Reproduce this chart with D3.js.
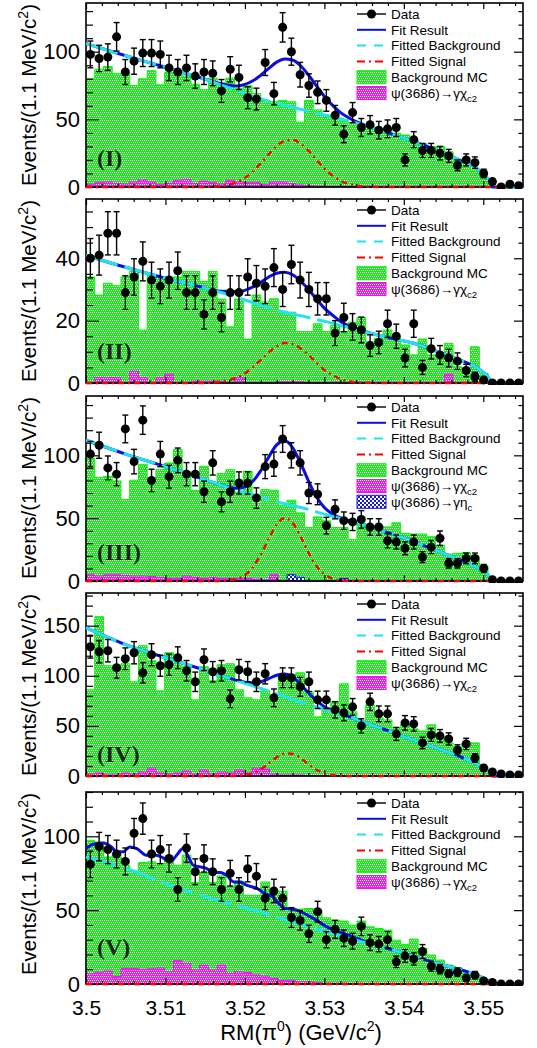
<!DOCTYPE html>
<html lang="en">
<head>
<meta charset="UTF-8">
<title>RM(pi0) fits</title>
<style>
  html, body { margin: 0; padding: 0; background: #fff; }
  #chart { display: block; }
</style>
</head>
<body>
<svg id="chart" width="537" height="1048"></svg>
<script src="https://d3js.org/d3.v7.min.js"></script>
<script>
// ---- binning and axis labels ----
const xDomain = [3.5, 3.555];
const binStart = 3.5, binWidth = 0.0011;   // 50 bins of 1.1 MeV
const xTickValues = [3.5, 3.51, 3.52, 3.53, 3.54, 3.55];
const xTickLabels = ["3.5", "3.51", "3.52", "3.53", "3.54", "3.55"];
const panelTags = ["(I)", "(II)", "(III)", "(IV)", "(V)"];

// ---- events per bin ----
const dataI = [98,95,96,111,85,93,99,99,98,88, 85,88,82,85,84,71,87,81,66,65,
  92,69,118,100,83,75,70,64,53,39, 55,44,46,42,43,44,20,35,27,27, 25,23,16,20,18,10,4,0,2,1];
const bkgMcI = [80,87,89,84,84,75,80,86,75.5,84.7, 83.7,82,76,72,80.5,77,80.5,73,74.8,69,
  64,63,64,63,48,64,57,53,51,49.6, 47,44.7,45,43.4,42,39.8,38.5,34.8,32,30, 30,26,20,17.5,12.6,7.6,0,0,0,0];
const chic2I = [2,3.2,3.7,2.7,2.2,3.7,5.2,3.7,1.7,2.7, 5,5.7,2.7,4.4,3.2,2.2,5,3.7,3.2,3.2,
  1.7,3.7,3.7,2.5,1.5,1,0.7,0.5,0.5,0.5, 0.3,0,0,0,0,0,0,0,0,0, 0,0,0,0,0,0,0,0,0,0];

const dataII = [40,41,48,48,29,34,39,33,31,33, 36,29,29,22,29,21,29,29,34,32,
  31,37,30,38,33,30,27,27,16,21, 18,17,12,13,19,15,8,19,5,11, 9,8,7,4,2,1,0,0,0,0];
const bkgMcII = [34,28.2,32,31.2,34,35.8,17,34.6,34,34, 34,35.8,35.8,32.6,35.8,26.9,18,26.9,14.1,28.2,
  26,27,23,22.7,16.5,16.5,19,16.5,18.5,16.5, 19.5,21,13.2,14.3,17,14.3,12.2,9,14.1,9, 7.9,12.7,5.2,4.6,11.6,3.1,0,0,0,0];
const chic2II = [0,1.7,1.7,1.7,0,3.8,1.7,0,1.7,2.8, 0,0,0.6,0.6,0.6,0.6,0,1.7,0,0,
  0,0,0.4,0.4,0.4,0,0,0,0.3,0, 0.3,0,0,0,0,0,0,0,0,0, 0,2.8,0,0,0,0,0,0,0,0];

const dataIII = [101,108,90,85,121,95,128,80,101,83, 96,85,85,71,94,63,71,78,78,66,
  91,93,113,100,94,70,69,44,57,48, 47,49,43,43,32,31,26,31,19,27, 34,14,14,18,18,10,1,0,0,0];
const bkgMcIII = [97.4,82.3,83.3,79.6,64.8,80.2,92.9,80.2,88.6,93.9, 104.5,87.3,72.2,91.3,78,85.5,88.6,70.9,87.3,61.7,
  72.8,72.2,60.3,64.3,54.2,42.6,51,47.9,42.6,42.6, 33.1,45.8,44.4,43.7,43,46.3,37.9,37.4,37.4,35.2, 28.6,21.4,22,22.5,19.3,11.9,0,0,0,0];
const chic2III = [5,4,5,5,4.5,4,4,3.5,3,2, 2,4,3,2,3,2,2,2,2,1.5,
  1,5,0.5,0.5,0.3,0,0,0,0,0, 0,0,0,0,0,0,0,0,0,0, 0,0,0,0,0,0,0,0,0,0];
const etacIII = [0,0,0,0,0,0,0,0,0,0, 0,0,0,0,0,0,0,0,0,0,
  0,0,0,5,3,0,0,0,0,2, 0,0,0,0,0,0,0,0,0,0, 0,0,0,0,0,0,0,0,0,0];

const dataIV = [129,124,125,108,117,123,103,121,110,111, 118,105,94,116,104,105,77,106,104,94,
  102,78,98,98,89,94,76,76,66,63, 69,50,74,62,62,42,53,52,33,41, 40,37,26,32,18,8,4,2,1,1];
const bkgMcIV = [86,159,110,110,112,94,130,115,85,123, 115,109,76,109,95,111,112,86,78,76,
  85,81,99,101,103,84,59,68,74,92, 64,55,71,58,56,48,51,47,45,51, 39,33,24,33,33,9,0,0,0,0];
const chic2IV = [2,3,1,1,3,2,4,8,3,2, 3,5,2,6,2,4,3,6,3,8,
  7,2,1,1,1,0.5,0.5,0.5,0.5,0, 0,0,0,0,0,0,0,0,0,0, 0,0,0,0,0,0,0,0,0,0];

const dataV = [81,93,91,88,83,102,112,88,91,85, 64,92,76,85,76,64,75,64,78,73,
  58,63,58,45,43,34,49,30,37,31, 29,39,28,27,30,15,19,17,22,12, 10,7,8,4,6,2,1,0,0,0];
const bkgMcV = [97.3,96.1,86,88.3,80.4,76.4,82.2,82.7,81.5,86, 80.4,87.2,68.7,75.5,68.7,73.2,65.8,69.6,60.1,60.1,
  69.1,62.8,62.8,51.1,50.7,51.1,50,44.8,43.2,42.6, 39.9,42.6,38.7,37.6,36.5,29.7,26.8,30.4,24.1,19.6, 16.2,12.8,11,8.3,6.6,2,0,0,0,0];
const chic2V = [7,8,8.8,5,10.6,10.6,10,10.3,10.9,8.3, 16,14,9.5,12.8,9.5,12.8,7.2,8.3,7.7,6.1,
  5.4,3.8,2.3,2.5,1.6,1.6,0.9,0.5,0.5,0.5, 0.3,0,0,0,0,0,0,0,0,0, 0,0,0,0,0,0,0,0,0,0];

// ---- fitted curves, read at these masses ----
const curveX = [3.500, 3.505, 3.510, 3.514, 3.517, 3.519, 3.520, 3.521, 3.522, 3.523, 3.524, 3.525, 3.526, 3.527,
  3.528, 3.529, 3.530, 3.531, 3.532, 3.533, 3.535, 3.538, 3.541, 3.544, 3.547, 3.549, 3.5505, 3.5512, 3.555];

const fitI = [106,97,88.5,81.5,76.3,74.7,75.8,78.5,82.6,87.7,92.3,94.7,93.9,89.6,82.8,74.8,67,60.5,55.2,51.4,45.9,40,34,27.5,20,14.5,6.5,0,0];
const bkgI = [106,97,88.5,81.5,75.5,71,69,67,65,63.5,62,60.5,59,57.5,56,54.7,53.3,52,50.5,49,45.5,40,34,27.5,20,14.5,6.5,0,0];
const sigI = [0,0,0,0,0.8,3.7,6.8,11.5,17.6,24.2,30.3,34.2,34.9,32.1,26.8,20.1,13.7,8.5,4.7,2.4,0.4,0,0,0,0,0,0,0,0];

const fitII = [40.9,37.1,33.6,31.1,29.4,29.3,29.7,30.8,32.3,34,35.2,35.5,34.7,32.7,30,26.9,24,21.8,19.8,18.4,16.6,14.6,12.9,10.3,7.4,5.2,2.3,0,0];
const bkgII = [40.9,37.1,33.6,31.1,29,27.5,26.6,25.8,24.9,24.2,23.4,22.7,22.1,21.6,21,20.4,19.8,19.2,18.5,17.8,16.5,14.6,12.9,10.3,7.4,5.2,2.3,0,0];
const sigII = [0,0,0,0,0.4,1.8,3.1,5,7.4,9.8,11.8,12.8,12.6,11.1,9,6.5,4.2,2.6,1.3,0.6,0.1,0,0,0,0,0,0,0,0];

const fitIII = [112,101,91,82.7,76.4,73.7,75,79.4,87.8,98.7,108.3,111.5,106.2,93.9,79.6,67,58.5,53.4,50.3,48.2,44.5,38.5,32,24.5,17,11.5,5.5,0,0];
const bkgIII = [112,101,91,82.7,76.3,72,70.3,68.5,66.7,65,63.2,61.5,60,58.5,57,55,53.2,51.4,49.7,48,44.5,38.5,32,24.5,17,11.5,5.5,0,0];
const sigIII = [0,0,0,0,0.1,1.7,4.7,10.9,21.1,33.7,45.1,50,46.2,35.4,22.6,12,5.3,2,0.6,0.2,0,0,0,0,0,0,0,0,0];

const fitIV = [148,131,118,108,100.3,95.3,93.6,93,94.1,97.2,100.6,101.7,98.7,91.5,82.9,75.1,69.2,65.2,62.2,59.6,53.4,45.2,36.5,28.3,19.5,12.5,5.5,0,0];
const bkgIV = [148,131,118,108,100.3,95,92.5,90,87.3,84.8,82,79.2,76.4,73.6,71.2,68.9,66.5,64.2,61.9,59.5,53.4,45.2,36.5,28.3,19.5,12.5,5.5,0,0];
const sigIV = [0,0,0,0,0,0.3,1.1,3,6.8,12.4,18.6,22.5,22.3,17.9,11.7,6.2,2.7,1,0.3,0.1,0,0,0,0,0,0,0,0,0];

// panel V fit follows the MC shape, so it has its own sampling
const fitVX = [3.5000,3.5011,3.5022,3.5032,3.5039,3.5047,3.5055,3.5064,3.5076,3.5089,3.5097,3.5106,3.5114,3.5122,
  3.5129,3.5135,3.5144,3.5152,3.5160,3.5169,3.5177,3.5186,3.5194,3.5202,3.5215,3.5228,3.5232,3.5249,3.5265,
  3.5286,3.5307,3.5328,3.5358,3.538,3.541,3.544,3.547,3.549,3.5505,3.5512,3.555];
const fitV = [91.7,95,95.5,92.8,89.4,89.5,92.8,91.7,87.2,87.2,85.4,82.6,87.2,91.7,86,80.4,79.3,78.2,75.5,75.5,
  73.6,69.1,69.1,66.9,64.7,60.6,60.1,51.6,50,44.4,37.6,33.6,27.5,24,19.2,14.2,10,6.3,2.8,0,0];
const bkgV = [86,78.5,68,60.7,56,53,51.6,50.2,48.8,46.9,45.3,43.7,42.1,40.5,38.9,37.3,35.7,34.2,32.6,31.1,28.2,24,19.2,14.2,10,6.3,2.8,0,0];
const sigV = [0,0,0,0,0,0,0,0,0,0,0,0,0,0,0,0,0,0,0,0,0,0,0,0,0,0,0,0,0];

const panels = [
  {data: dataI, bkgMc: bkgMcI, chic2: chic2I, etac: null, fitX: curveX, fit: fitI, bkg: bkgI, sig: sigI},
  {data: dataII, bkgMc: bkgMcII, chic2: chic2II, etac: null, fitX: curveX, fit: fitII, bkg: bkgII, sig: sigII},
  {data: dataIII, bkgMc: bkgMcIII, chic2: chic2III, etac: etacIII, fitX: curveX, fit: fitIII, bkg: bkgIII, sig: sigIII},
  {data: dataIV, bkgMc: bkgMcIV, chic2: chic2IV, etac: null, fitX: curveX, fit: fitIV, bkg: bkgIV, sig: sigIV},
  {data: dataV, bkgMc: bkgMcV, chic2: chic2V, etac: null, fitX: fitVX, fit: fitV, bkg: bkgV, sig: sigV}
];

// ---- layout ----
const sans = '"Liberation Sans", Arial, Helvetica, sans-serif';
const left = 86, right = 523;
const boxes = [
  {top: 3, bottom: 187, yMax: 136, major: 50, minor: 10, tagY: 166},
  {top: 199, bottom: 383, yMax: 59, major: 20, minor: 5, tagY: 359},
  {top: 396, bottom: 581, yMax: 147.2, major: 50, minor: 10, tagY: 560},
  {top: 593, bottom: 776, yMax: 182.6, major: 50, minor: 10, tagY: 762},
  {top: 792, bottom: 984, yMax: 130, major: 50, minor: 10, tagY: 955}
];
const colFit = "#0c0ce6", colBkg = "#22e2f2", colSig = "#ff0000";

const svg = d3.select("#chart");
const defs = svg.append("defs");

function makePattern(id, bg, fg, size, cells) {
  const p = defs.append("pattern").attr("id", id)
    .attr("patternUnits", "userSpaceOnUse").attr("width", size).attr("height", size);
  p.append("rect").attr("width", size).attr("height", size).attr("fill", bg);
  cells.forEach(c => p.append("rect").attr("x", c[0]).attr("y", c[1])
    .attr("width", c[2]).attr("height", c[2]).attr("fill", fg));
}
const dots = [[0, 0, 1], [2, 0, 1], [1, 2, 1], [3, 2, 1]];
makePattern("fillGreen", "#10f010", "#ffffff", 4, dots);
makePattern("fillMagenta", "#f414f4", "#ffffff", 4, dots);
makePattern("fillBlue", "#1414dc", "#ffffff", 4, [[0, 0, 2], [2, 2, 2]]);

const x = d3.scaleLinear().domain(xDomain).range([left, right]);

const xMinor = d3.range(0, 28).filter(k => k % 5 !== 0).map(k => 3.5 + k * 0.002);

panels.forEach((p, i) => {
  const b = boxes[i];
  const y = d3.scaleLinear().domain([0, b.yMax]).range([b.bottom, b.top]);
  const g = svg.append("g");

  const clipId = "clip" + i;
  defs.append("clipPath").attr("id", clipId).append("rect")
    .attr("x", left - 2).attr("y", b.top).attr("width", right - left + 4).attr("height", b.bottom - b.top + 2);

  // histograms
  const histLayer = g.append("g").attr("clip-path", `url(#${clipId})`);
  const histPath = vals => {
    const pts = vals.map((v, k) => [binStart + k * binWidth, v]);
    pts.push([binStart + vals.length * binWidth, vals[vals.length - 1]]);
    return d3.area().x(d => x(d[0])).y0(y(0)).y1(d => y(d[1])).curve(d3.curveStepAfter)(pts);
  };
  histLayer.append("path").attr("d", histPath(p.bkgMc))
    .attr("fill", "url(#fillGreen)").attr("stroke", "#12ee12").attr("stroke-width", 1);
  histLayer.append("path").attr("d", histPath(p.chic2))
    .attr("fill", "url(#fillMagenta)").attr("stroke", "#f010f0").attr("stroke-width", 1);
  if (p.etac) {
    histLayer.append("path").attr("d", histPath(p.etac))
      .attr("fill", "url(#fillBlue)").attr("stroke", "#1414dc").attr("stroke-width", 1);
  }

  // frame and ticks
  g.append("rect").attr("x", left).attr("y", b.top).attr("width", right - left).attr("height", b.bottom - b.top)
    .attr("fill", "none").attr("stroke", "#000").attr("stroke-width", 1.6);

  const yMajor = d3.range(0, b.yMax + 0.01, b.major);
  const yMinor = d3.range(0, b.yMax + 0.01, b.minor).filter(v => v % b.major !== 0);
  const axes = g.append("g");
  axes.append("g").attr("transform", `translate(${left},0)`)
    .call(d3.axisLeft(y).tickValues(yMinor).tickSize(-7).tickFormat(""));
  axes.append("g").attr("class", "ylab").attr("transform", `translate(${left},0)`)
    .call(d3.axisLeft(y).tickValues(yMajor).tickSize(-13).tickPadding(6).tickFormat(d3.format("d")));
  axes.append("g").attr("transform", `translate(${right},0)`)
    .call(d3.axisRight(y).tickValues(yMinor).tickSize(-4.5).tickFormat(""));
  axes.append("g").attr("transform", `translate(${right},0)`)
    .call(d3.axisRight(y).tickValues(yMajor).tickSize(-9).tickFormat(""));
  axes.append("g").attr("transform", `translate(0,${b.bottom})`)
    .call(d3.axisBottom(x).tickValues(xMinor).tickSize(-3).tickFormat(""));
  axes.append("g").attr("class", "xlab").attr("transform", `translate(0,${b.bottom})`)
    .call(d3.axisBottom(x).tickValues(xTickValues).tickSize(-6).tickPadding(16)
      .tickFormat((d, k) => i === panels.length - 1 ? xTickLabels[k] : ""));
  axes.append("g").attr("transform", `translate(0,${b.top})`)
    .call(d3.axisTop(x).tickValues(xMinor).tickSize(-3).tickFormat(""));
  axes.append("g").attr("transform", `translate(0,${b.top})`)
    .call(d3.axisTop(x).tickValues(xTickValues).tickSize(-6).tickFormat(""));
  axes.selectAll(".domain").remove();
  axes.selectAll("line").attr("stroke", "#000").attr("stroke-width", 1.2);
  axes.selectAll(".ylab text").attr("font-family", sans).attr("font-size", 22).attr("fill", "#000");
  axes.selectAll(".xlab text").attr("font-family", sans).attr("font-size", 21).attr("fill", "#000");

  // fitted curves
  const curveLayer = g.append("g").attr("clip-path", `url(#${clipId})`).attr("fill", "none");
  const line = d3.line().x(d => x(d[0])).y(d => y(d[1])).curve(d3.curveMonotoneX);
  curveLayer.append("path").attr("d", line(d3.zip(p.fitX, p.fit)))
    .attr("stroke", colFit).attr("stroke-width", 3);
  curveLayer.append("path").attr("d", line(d3.zip(curveX, p.bkg)))
    .attr("stroke", colBkg).attr("stroke-width", 3).attr("stroke-dasharray", "33,7");
  curveLayer.append("path").attr("d", line(d3.zip(curveX, p.sig)))
    .attr("stroke", colSig).attr("stroke-width", 2.5).attr("stroke-dasharray", "6,4,2,4");

  // data points with sqrt(N) error bars
  const pts = p.data.map((v, k) => ({m: binStart + (k + 0.5) * binWidth, v: v}));
  const dataLayer = g.append("g").attr("clip-path", `url(#${clipId})`);
  const withErr = pts.filter(d => d.v > 0);
  dataLayer.selectAll("line.bar").data(withErr).join("line").attr("class", "bar")
    .attr("x1", d => x(d.m)).attr("x2", d => x(d.m))
    .attr("y1", d => y(d.v - Math.sqrt(d.v))).attr("y2", d => y(d.v + Math.sqrt(d.v)))
    .attr("stroke", "#000").attr("stroke-width", 1.4);
  dataLayer.selectAll("line.capHi").data(withErr).join("line").attr("class", "capHi")
    .attr("x1", d => x(d.m) - 3).attr("x2", d => x(d.m) + 3)
    .attr("y1", d => y(d.v + Math.sqrt(d.v))).attr("y2", d => y(d.v + Math.sqrt(d.v)))
    .attr("stroke", "#000").attr("stroke-width", 1.4);
  dataLayer.selectAll("line.capLo").data(withErr).join("line").attr("class", "capLo")
    .attr("x1", d => x(d.m) - 3).attr("x2", d => x(d.m) + 3)
    .attr("y1", d => y(d.v - Math.sqrt(d.v))).attr("y2", d => y(d.v - Math.sqrt(d.v)))
    .attr("stroke", "#000").attr("stroke-width", 1.4);
  dataLayer.selectAll("circle").data(pts).join("circle")
    .attr("cx", d => x(d.m)).attr("cy", d => y(d.v)).attr("r", 4.5).attr("fill", "#000");

  // legend
  const entries = [
    {kind: "data", text: "Data"},
    {kind: "line", stroke: colFit, dash: null, text: "Fit Result"},
    {kind: "line", stroke: colBkg, dash: "9,8", text: "Fitted Background"},
    {kind: "line", stroke: colSig, dash: "8,4,2,4", text: "Fitted Signal"},
    {kind: "box", fill: "url(#fillGreen)", stroke: "#12ee12", text: "Background MC"},
    {kind: "box", fill: "url(#fillMagenta)", stroke: "#f010f0", text: "ψ(3686)→γχ", sub: "c2"}
  ];
  if (p.etac) entries.push({kind: "box", fill: "url(#fillBlue)", stroke: "#1414dc", text: "ψ(3686)→γη", sub: "c"});
  const lg = g.append("g");
  entries.forEach((e, j) => {
    const ry = b.top + 11 + 15.8 * j;
    if (e.kind === "data") {
      lg.append("line").attr("x1", 357).attr("x2", 386).attr("y1", ry).attr("y2", ry)
        .attr("stroke", "#000").attr("stroke-width", 1.4);
      lg.append("circle").attr("cx", 371.5).attr("cy", ry).attr("r", 4.5).attr("fill", "#000");
    } else if (e.kind === "line") {
      lg.append("line").attr("x1", 357).attr("x2", 386).attr("y1", ry).attr("y2", ry)
        .attr("stroke", e.stroke).attr("stroke-width", 2).attr("stroke-dasharray", e.dash);
    } else {
      lg.append("rect").attr("x", 357).attr("y", ry - 6.5).attr("width", 29).attr("height", 13)
        .attr("fill", e.fill).attr("stroke", e.stroke).attr("stroke-width", 1);
    }
    const t = lg.append("text").attr("x", 391).attr("y", ry + 4.7)
      .attr("font-family", sans).attr("font-size", 13.5).attr("fill", "#000").text(e.text);
    if (e.sub) t.append("tspan").attr("dy", 4).attr("font-size", 9.5).text(e.sub);
  });

  // panel tag
  g.append("text").attr("x", 97).attr("y", b.tagY)
    .attr("font-family", '"Liberation Serif", "Times New Roman", serif').attr("font-weight", "bold")
    .attr("font-size", 24).attr("fill", "#222").text(panelTags[i]);

  // y title
  const yt = g.append("text").attr("transform", `translate(36,${b.top + 1}) rotate(-90)`)
    .attr("text-anchor", "end").attr("font-family", sans).attr("font-size", 20.5).attr("fill", "#000");
  yt.append("tspan").text("Events/(1.1 MeV/c");
  yt.append("tspan").attr("dy", -8).attr("font-size", 14).text("2");
  yt.append("tspan").attr("dy", 8).text(")");
});

// x title
const xt = svg.append("text").attr("x", 301).attr("y", 1040).attr("text-anchor", "middle")
  .attr("font-family", sans).attr("font-size", 22).attr("fill", "#000");
xt.append("tspan").text("RM(π");
xt.append("tspan").attr("dy", -9).attr("font-size", 14).text("0");
xt.append("tspan").attr("dy", 9).text(") (GeV/c");
xt.append("tspan").attr("dy", -9).attr("font-size", 14).text("2");
xt.append("tspan").attr("dy", 9).text(")");
</script>
</body>
</html>
